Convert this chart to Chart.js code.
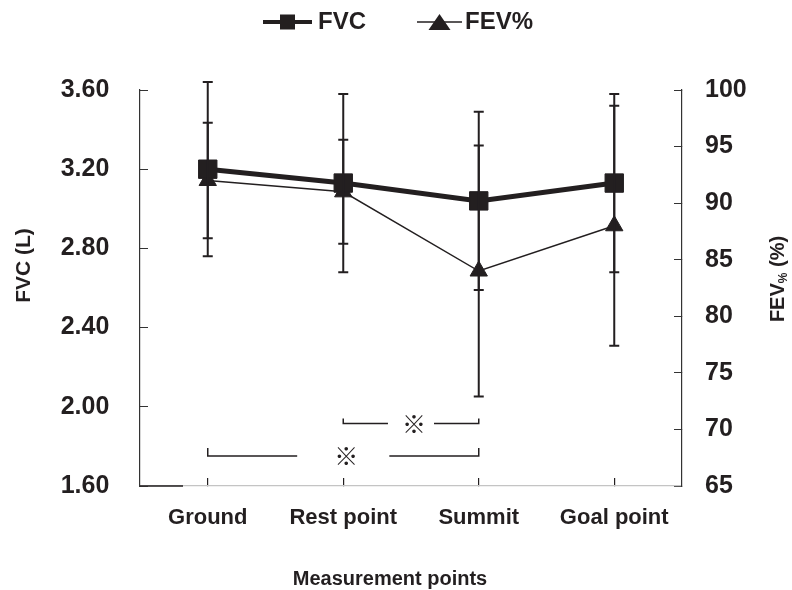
<!DOCTYPE html>
<html>
<head>
<meta charset="utf-8">
<script src="https://cdn.jsdelivr.net/npm/chart.js@4/dist/chart.umd.min.js"></script>
<style>
html,body{margin:0;padding:0;background:#ffffff;}
#wrap{width:792px;height:590px;}
</style>
</head>
<body>
<div id="wrap"><canvas id="c" width="792" height="590"></canvas></div>
<script>
// ---- data ----
const categories = ['Ground', 'Rest point', 'Summit', 'Goal point'];
const fvcMean = [3.20, 3.13, 3.04, 3.13];
const fvcSD   = [0.44, 0.45, 0.45, 0.45];
const fevMean = [92.0, 91.0, 84.0, 88.0];
const fevSD   = [5.1, 4.6, 11.1, 10.6];
const fvcTicks = [1.6, 2.0, 2.4, 2.8, 3.2, 3.6];
const fevTicks = [65, 70, 75, 80, 85, 90, 95, 100];
const seriesLabels = ['FVC', 'FEV%'];
// significance comparisons (category index pairs, bracket level on FVC axis)
const sigFrom  = [0, 1];
const sigTo    = [2, 2];
const sigLevel = [1.752, 1.916];
const sigMark  = '※';

// ---- style ----
const INK = '#231f20';
const FF = '"Liberation Sans", Arial, Helvetica, sans-serif';
Chart.defaults.font.family = FF;
Chart.defaults.color = INK;

function legendImage(kind) {
  const c = document.createElement('canvas');
  const g = c.getContext('2d');
  if (kind === 'rect') {
    c.width = 89; c.height = 22;
    g.strokeStyle = INK; g.lineWidth = 4;
    g.beginPath(); g.moveTo(40, 11); g.lineTo(89, 11); g.stroke();
    g.fillStyle = INK; g.fillRect(64.5 - 7.5, 11 - 7.5, 15, 15);
  } else {
    c.width = 95; c.height = 22;
    g.strokeStyle = INK; g.lineWidth = 1.5;
    g.beginPath(); g.moveTo(50, 11); g.lineTo(95, 11); g.stroke();
    g.fillStyle = INK;
    g.beginPath(); g.moveTo(72.5, 3); g.lineTo(83.5, 19); g.lineTo(61.5, 19); g.closePath(); g.fill();
  }
  return c;
}
const legendImgs = [legendImage('rect'), legendImage('tri')];

const legendSpacer = {
  id: 'legendSpacer',
  afterInit(chart) {
    const lg = chart.legend;
    if (!lg) return;
    const f = lg.fit;
    lg.fit = function () { f.call(this); if (this.options.display) this.height = 90; };
  }
};

const errorBars = {
  id: 'errorBars',
  afterDatasetsDraw(chart) {
    const ctx = chart.ctx, xs = chart.scales.x;
    const sets = [[fvcMean, fvcSD, chart.scales.yL], [fevMean, fevSD, chart.scales.yR]];
    ctx.save();
    ctx.strokeStyle = INK; ctx.lineWidth = 2;
    sets.forEach(([m, s, ys]) => {
      m.forEach((v, i) => {
        const px = xs.getPixelForValue(i);
        const t = ys.getPixelForValue(v + s[i]);
        const b = ys.getPixelForValue(v - s[i]);
        ctx.beginPath();
        ctx.moveTo(px, t); ctx.lineTo(px, b);
        ctx.moveTo(px - 5, t); ctx.lineTo(px + 5, t);
        ctx.moveTo(px - 5, b); ctx.lineTo(px + 5, b);
        ctx.stroke();
      });
    });
    ctx.restore();
  }
};

const sigTickLen = [8, 5];
const sigBrackets = {
  id: 'sigBrackets',
  afterDatasetsDraw(chart) {
    const ctx = chart.ctx, xs = chart.scales.x, ys = chart.scales.yL;
    ctx.save();
    ctx.strokeStyle = INK; ctx.fillStyle = INK; ctx.lineWidth = 1.5;
    ctx.font = '24px "Noto Sans CJK JP", "Noto Sans CJK SC", sans-serif';
    ctx.textAlign = 'center'; ctx.textBaseline = 'middle';
    sigFrom.forEach((f, k) => {
      const x1 = xs.getPixelForValue(f), x2 = xs.getPixelForValue(sigTo[k]);
      const py = ys.getPixelForValue(sigLevel[k]);
      const mid = (x1 + x2) / 2, half = (x2 - x1) * 0.17;
      const th = sigTickLen[k];
      ctx.beginPath();
      ctx.moveTo(x1, py - th); ctx.lineTo(x1, py); ctx.lineTo(mid - half, py);
      ctx.moveTo(mid + half, py); ctx.lineTo(x2, py); ctx.lineTo(x2, py - th);
      ctx.stroke();
      ctx.fillText(sigMark, mid + 3, py);
    });
    ctx.restore();
  }
};

const axisTitles = {
  id: 'axisTitles',
  afterDraw(chart) {
    const ctx = chart.ctx, ca = chart.chartArea;
    ctx.save();
    ctx.fillStyle = INK; ctx.strokeStyle = INK;
    // short dark piece at the start of the bottom axis
    ctx.lineWidth = 1.5;
    ctx.beginPath(); ctx.moveTo(ca.left, ca.bottom); ctx.lineTo(ca.left + 43, ca.bottom); ctx.stroke();
    // x title
    ctx.font = 'bold 20px ' + FF;
    ctx.textAlign = 'center'; ctx.textBaseline = 'alphabetic';
    ctx.fillText('Measurement points', 390, 585);
    // left title
    ctx.save();
    ctx.translate(30, 265.5); ctx.rotate(-Math.PI / 2);
    ctx.font = 'bold 21px ' + FF; ctx.textAlign = 'center';
    ctx.fillText('FVC (L)', 0, 0);
    ctx.restore();
    // right title with subscript
    ctx.save();
    ctx.translate(784, 279); ctx.rotate(-Math.PI / 2);
    ctx.textAlign = 'left';
    const big = 'bold 20px ' + FF, small = 'bold 12px ' + FF;
    ctx.font = big; const w1 = ctx.measureText('FEV').width; const w3 = ctx.measureText(' (%)').width;
    ctx.font = small; const w2 = ctx.measureText('%').width;
    let x0 = -(w1 + w2 + w3) / 2;
    ctx.font = big; ctx.fillText('FEV', x0, 0);
    ctx.font = small; ctx.fillText('%', x0 + w1, 3);
    ctx.font = big; ctx.fillText(' (%)', x0 + w1 + w2, 0);
    ctx.restore();
    ctx.restore();
  }
};

new Chart(document.getElementById('c'), {
  type: 'line',
  data: {
    labels: categories,
    datasets: [
      {
        label: seriesLabels[0], data: fvcMean, yAxisID: 'yL',
        borderColor: INK, backgroundColor: INK, borderWidth: 5,
        pointStyle: 'rect', pointRadius: 13, pointBorderWidth: 1,
        pointBackgroundColor: INK, pointBorderColor: INK, tension: 0
      },
      {
        label: seriesLabels[1], data: fevMean, yAxisID: 'yR',
        borderColor: INK, backgroundColor: INK, borderWidth: 1.5,
        pointStyle: 'triangle', pointRadius: 10, pointBorderWidth: 1,
        pointBackgroundColor: INK, pointBorderColor: INK, tension: 0
      }
    ]
  },
  options: {
    responsive: false,
    animation: false,
    devicePixelRatio: 1,
    layout: { padding: { left: 0, right: 30, top: 0, bottom: 0 } },
    plugins: {
      tooltip: { enabled: false },
      legend: {
        display: true, position: 'top', align: 'center',
        labels: {
          usePointStyle: true, pointStyleWidth: 77, padding: 10,
          font: { size: 24, weight: 'bold' }, color: INK,
          generateLabels: (chart) => chart.data.datasets.map((ds, i) => ({
            text: ds.label, pointStyle: legendImgs[i], fillStyle: INK, strokeStyle: INK,
            lineWidth: 0, hidden: false, datasetIndex: i, fontColor: INK
          }))
        }
      }
    },
    scales: {
      x: {
        type: 'category', offset: true,
        grid: { display: true, drawOnChartArea: false, offset: false, tickLength: -8, color: INK, lineWidth: 1.2 },
        border: { display: true, color: '#c4c4c4', width: 1.2 },
        ticks: { font: { size: 22, weight: 'bold' }, color: INK, padding: 27, maxRotation: 0 },
        afterFit(s) { s.height = 104; }
      },
      yL: {
        type: 'linear', position: 'left', min: 1.6, max: 3.6,
        afterBuildTicks(s) { s.ticks = fvcTicks.map(v => ({ value: v })); },
        ticks: { callback: v => Number(v).toFixed(2), padding: 38.7, font: { size: 25, weight: 'bold' }, color: INK },
        grid: { display: true, drawOnChartArea: false, tickLength: -8, color: '#333', lineWidth: 1 },
        border: { display: true, color: '#333', width: 1.2 },
        afterFit(s) { s.width = 140; }
      },
      yR: {
        type: 'linear', position: 'right', min: 65, max: 100,
        afterBuildTicks(s) { s.ticks = fevTicks.map(v => ({ value: v })); },
        ticks: { callback: v => String(v), padding: 31, font: { size: 25, weight: 'bold' }, color: INK },
        grid: { display: true, drawOnChartArea: false, tickLength: -8, color: '#333', lineWidth: 1 },
        border: { display: true, color: '#333', width: 1.2 },
        afterFit(s) { s.width = 80; }
      }
    }
  },
  plugins: [legendSpacer, errorBars, sigBrackets, axisTitles]
});
</script>
</body>
</html>
